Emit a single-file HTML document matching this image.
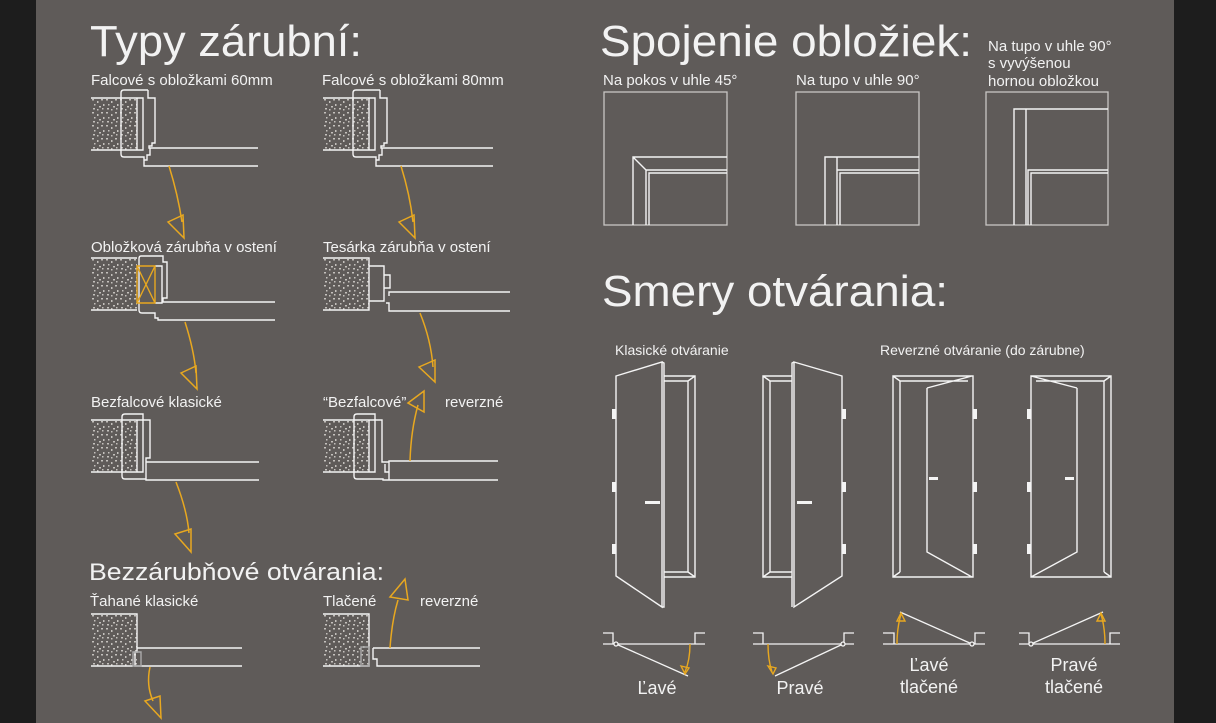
<!DOCTYPE html>
<html><head><meta charset="utf-8"><style>
html,body{margin:0;padding:0;background:#1d1d1d;}
svg{display:block}
text{font-family:"Liberation Sans",sans-serif;fill:#f2f2f2}
</style></head><body>
<svg width="1216" height="723" viewBox="0 0 1216 723" xmlns="http://www.w3.org/2000/svg">
<defs>
<pattern id="cp" width="14" height="13" patternUnits="userSpaceOnUse">
<rect width="14" height="13" fill="#5f5b59"/>
<g fill="#c4c1bd">
<rect x="1" y="1" width="2" height="1.5"/><rect x="6" y="3" width="1.5" height="2"/><rect x="10" y="1" width="2" height="1.5"/>
<rect x="3" y="6" width="1.5" height="1.5"/><rect x="8" y="8" width="2" height="1.5"/><rect x="12" y="6" width="1.5" height="2"/>
<rect x="2" y="10" width="2" height="1.5"/><rect x="6" y="11" width="1.5" height="1.5"/><rect x="11" y="10" width="1.5" height="1.5"/>
</g></pattern>
</defs>
<rect x="36" y="0" width="1138" height="723" fill="#5f5b59"/>

<!-- titles -->
<text x="90" y="56" font-size="44" textLength="272" lengthAdjust="spacingAndGlyphs">Typy zárubní:</text>
<text x="600" y="56" font-size="44" textLength="372" lengthAdjust="spacingAndGlyphs">Spojenie obložiek:</text>
<text x="602" y="306" font-size="44" textLength="346" lengthAdjust="spacingAndGlyphs">Smery otvárania:</text>
<text x="89" y="580" font-size="24" textLength="295" lengthAdjust="spacingAndGlyphs">Bezzárubňové otvárania:</text>

<g font-size="15">
<text x="91" y="85">Falcové s obložkami 60mm</text>
<text x="322" y="85">Falcové s obložkami 80mm</text>
<text x="91" y="252">Obložková zárubňa v ostení</text>
<text x="323" y="252">Tesárka zárubňa v ostení</text>
<text x="91" y="407">Bezfalcové klasické</text>
<text x="323" y="407">“Bezfalcové”</text>
<text x="445" y="407">reverzné</text>
<text x="90" y="606">Ťahané klasické</text>
<text x="323" y="606">Tlačené</text>
<text x="420" y="606">reverzné</text>
<text x="603" y="85">Na pokos v uhle 45°</text>
<text x="796" y="85">Na tupo v uhle 90°</text>
<text x="988" y="51">Na tupo v uhle 90°</text>
<text x="988" y="68">s vyvýšenou</text>
<text x="988" y="86">hornou obložkou</text>
</g>
<g font-size="14">
<text x="615" y="355">Klasické otváranie</text>
<text x="880" y="355">Reverzné otváranie (do zárubne)</text>
</g>
<g font-size="18" text-anchor="middle">
<text x="657" y="694">Ľavé</text>
<text x="800" y="694">Pravé</text>
<text x="929" y="671">Ľavé</text>
<text x="929" y="693">tlačené</text>
<text x="1074" y="671">Pravé</text>
<text x="1074" y="693">tlačené</text>
</g>

<!-- frame sections -->
<g stroke="#f4f4f4" stroke-width="1.4" fill="none">
<g transform="translate(91,98)">
<rect x="0" y="0" width="46" height="52" fill="url(#cp)" stroke="none"/>
<path d="M0,0H46V52H0M46,0H52V52H46"/>
<path d="M57,-8H33Q30,-8 30,-5V56Q30,59 33,59H53V68H167M57,-8V0H64V45H61V48H58V50H167M53,59V62H56V57H59V50"/>
</g>
<g transform="translate(323,98)">
<rect x="0" y="0" width="46" height="52" fill="url(#cp)" stroke="none"/>
<path d="M0,0H46V52H0M46,0H52V52H46"/>
<path d="M57,-8H33Q30,-8 30,-5V56Q30,59 33,59H53V68H170M57,-8V0H64V45H61V48H58V50H170M53,59V62H56V57H59V50"/>
</g>
<g transform="translate(91,258)">
<rect x="0" y="0" width="46" height="52" fill="url(#cp)" stroke="none"/>
<path d="M0,0H46M0,52H46"/>
<path d="M50,-2Q48,-2 48,1V52Q48,55 51,55H64V60H67V62H184M50,-2H72V4H76V40H72V44H184"/>
<path d="M64,8H71V45H64"/>
<path d="M46,8H64V45H46ZM46,8L64,45M64,8L46,45" stroke="#e8a820"/>
</g>
<g transform="translate(323,258)">
<rect x="0" y="0" width="46" height="52" fill="url(#cp)" stroke="none"/>
<path d="M0,0H46V52H0M46,8H61V43H46M61,17H67V30H61"/>
<path d="M69,34H187M63,45H66V53H187M66,38V34H69"/>
</g>
<g transform="translate(91,420)">
<rect x="0" y="0" width="46" height="52" fill="url(#cp)" stroke="none"/>
<path d="M0,0H46V52H0M46,0H52V52H46"/>
<path d="M34,-6H52V0H59V38H55V42H168M34,-6Q31,-6 31,-3V56Q31,59 34,59H55V60H168M55,42V60"/>
</g>
<g transform="translate(323,420)">
<rect x="0" y="0" width="46" height="52" fill="url(#cp)" stroke="none"/>
<path d="M0,0H46V52H0M46,0H52V52H46"/>
<path d="M34,-6H52V0H59V42H66V41H175M34,-6Q31,-6 31,-3V56Q31,59 34,59H60V60H175M62,44V52H66V60M66,41V60"/>
</g>
<g transform="translate(91,614)">
<rect x="0" y="0" width="46" height="52" fill="url(#cp)" stroke="none"/>
<path d="M0,0H46V34H151M0,52H42M46,34V38H44V52H151"/>
<path d="M42,38H50V52H42Z" stroke="#aaa"/>
</g>
<g transform="translate(323,614)">
<rect x="0" y="0" width="46" height="52" fill="url(#cp)" stroke="none"/>
<path d="M0,0H46V52H0M50,34H157M50,34V45H54V52H157"/>
<path d="M38,33H46V52H38Z" stroke="#aaa"/>
</g>
</g>

<!-- arrows -->
<g stroke="#e8a820" stroke-width="1.5" fill="none">
<path d="M169,166Q178,195 182,222"/><path d="M168,222L183,215L184,238Z"/>
<path d="M401,166Q410,195 413,222"/><path d="M399,222L414,215L415,238Z"/>
<path d="M185,322Q194,350 196,373"/><path d="M181,373L196,366L197,389Z"/>
<path d="M420,313Q431,340 433,367"/><path d="M419,367L435,360L435,382Z"/>
<path d="M176,482Q187,510 189,533"/><path d="M175,534L191,529L191,552Z"/>
<path d="M410,461Q411,430 418,405"/><path d="M408,403L424,391L424,412Z"/>
<path d="M150,667Q146,685 153,701"/><path d="M145,701L160,696L161,718Z"/>
<path d="M390,648Q392,620 398,600"/><path d="M390,597L405,579L408,600Z"/>
</g>

<!-- joints boxes -->
<g stroke="#c8c6c4" stroke-width="1.3" fill="none">
<rect x="604" y="92" width="123" height="133"/>
<rect x="796" y="92" width="123" height="133"/>
<rect x="986" y="92" width="122" height="133"/>
</g>
<g stroke="#f4f4f4" stroke-width="1.4" fill="none">
<path d="M727,157H633V225M633,157L646,170M727,170H646V225M727,173H649V225"/>
<path d="M919,157H825V225M837,157V170M919,170H837V225M919,173H840V225"/>
<path d="M1108,109H1014V225M1026,109V225M1108,170H1028V225M1108,173H1031V225"/>
</g>

<!-- doors -->
<g stroke="#f4f4f4" stroke-width="1.4" fill="none">
<path d="M616,376L662,362V607L616,576ZM662,362L664,363V607L662,607"/>
<path d="M664,376H695V577H664M664,381H688V572H664M688,381L695,376M688,572L695,577"/>
<path d="M794,362L842,376V576L794,607ZM794,362L792,363V607"/>
<path d="M792,376H763V577H792M792,381H770V572H792M770,381L763,376M770,572L763,577"/>
<path d="M893,376H973V577H893ZM900,381H968M900,381V572M893,376L900,381M893,577L900,572M927,388L972,376M927,388V552L972,577"/>
<path d="M1031,376H1111V577H1031ZM1036,381H1104V572M1111,376L1104,381M1111,577L1104,572M1077,388L1031,376M1077,388V552L1031,577"/>
</g>
<g fill="#f4f4f4">
<rect x="612" y="409" width="4" height="10"/><rect x="612" y="482" width="4" height="10"/><rect x="612" y="544" width="4" height="10"/>
<rect x="842" y="409" width="4" height="10"/><rect x="842" y="482" width="4" height="10"/><rect x="842" y="544" width="4" height="10"/>
<rect x="973" y="409" width="4" height="10"/><rect x="973" y="482" width="4" height="10"/><rect x="973" y="544" width="4" height="10"/>
<rect x="1027" y="409" width="4" height="10"/><rect x="1027" y="482" width="4" height="10"/><rect x="1027" y="544" width="4" height="10"/>
<rect x="645" y="501" width="15" height="3"/><rect x="797" y="501" width="15" height="3"/>
<rect x="929" y="477" width="9" height="3"/><rect x="1065" y="477" width="9" height="3"/>
</g>

<!-- plans -->
<g stroke="#f4f4f4" stroke-width="1.3" fill="none">
<path d="M603,633H613V644M603,644H705M695,644V633H705M616,644L688,676"/>
<path d="M753,633H763V644M753,644H854M844,644V633H854M843,644L775,676"/>
<path d="M883,633H894V644M883,644H985M975,644V633H985M972,644L900,612"/>
<path d="M1019,633H1029V644M1019,644H1120M1110,644V633H1120M1031,644L1103,612"/>
<circle cx="616" cy="644" r="2" fill="#5f5b59"/><circle cx="843" cy="644" r="2" fill="#5f5b59"/>
<circle cx="972" cy="644" r="2" fill="#5f5b59"/><circle cx="1031" cy="644" r="2" fill="#5f5b59"/>
</g>
<g stroke="#e8a820" stroke-width="1.4" fill="none">
<path d="M690,644Q690,660 685,672"/><path d="M681,666L689,668L685,674Z"/>
<path d="M768,644Q768,660 772,672"/><path d="M768,666L776,668L773,674Z"/>
<path d="M897,644Q897,628 901,614"/><path d="M897,621L905,621L901,613Z"/>
<path d="M1105,644Q1105,628 1101,614"/><path d="M1097,621L1105,621L1101,613Z"/>
</g>
</svg>
</body></html>
